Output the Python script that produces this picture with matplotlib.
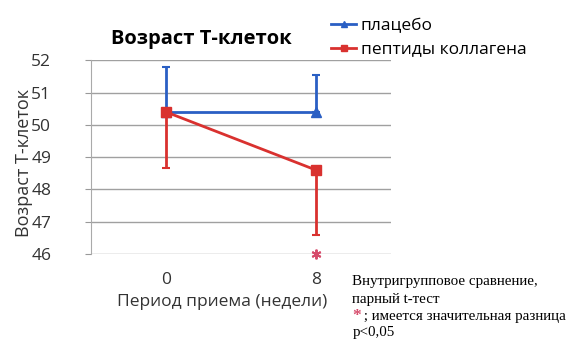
import matplotlib
matplotlib.use("Agg")
import matplotlib.pyplot as plt
from matplotlib.lines import Line2D

weeks = ["0", "8"]
placebo = [50.4, 50.4]
placebo_err_up = [1.4, 1.15]
collagen = [50.4, 48.6]
collagen_err_down = [1.75, 2.0]
y_ticks = [46, 47, 48, 49, 50, 51, 52]
star_value = 46.0

blue = "#2a5fc4"
red = "#d9312f"
star_color = "#d64a6a"

plt.rcParams["font.family"] = ["Open Sans", "DejaVu Sans"]

fig = plt.figure(figsize=(5.71, 3.42), dpi=100)
ax = fig.add_axes([0.159, 0.257, 0.526, 0.567])

x = list(range(len(weeks)))

ax.errorbar(x, placebo, yerr=[[0, 0], placebo_err_up], color=blue, lw=2,
            marker="^", ms=7, capsize=3, capthick=1.5, elinewidth=2, zorder=3)
ax.errorbar(x, collagen, yerr=[collagen_err_down, [0, 0]], color=red, lw=2,
            marker="s", ms=7, capsize=3, capthick=1.5, elinewidth=2, zorder=4)
ax.plot([x[1]], [star_value], marker=(6, 2, 0), ms=7, mew=1.4,
        color=star_color, clip_on=False, zorder=5)

ax.set_xlim(-0.5, 1.5)
ax.set_ylim(46, 52)
ax.set_xticks(x)
ax.set_xticklabels(weeks, fontsize=12.5, color="#333333")
ax.set_yticks(y_ticks)
ax.set_yticklabels([str(v) for v in y_ticks], fontsize=12.5, color="#333333")
ax.tick_params(axis="x", length=0, pad=13)
ax.tick_params(axis="y", length=4, color="#999999", pad=24.5)
ax.grid(axis="y", color="#a0a0a0", lw=1)
ax.set_axisbelow(True)
for side in ["top", "right", "bottom"]:
    ax.spines[side].set_visible(False)
ax.spines["left"].set_color("#aaaaaa")

ax.set_xlabel("Период приема (недели)", fontsize=12.5, color="#333333",
              va="center")
ax.xaxis.set_label_coords(0.438, -0.248)
ax.set_ylabel("Возраст Т-клеток", fontsize=13, color="#333333", va="center")
ax.yaxis.set_label_coords(-0.222, 0.469)

fig.text(0.353, 0.887, "Возраст Т-клеток", fontsize=14.5, fontweight="bold",
         ha="center", va="center")

handles = [
    Line2D([0], [0], color=blue, lw=2, marker="^", ms=5),
    Line2D([0], [0], color=red, lw=2, marker="s", ms=5),
]
fig.legend(handles, ["плацебо", "пептиды коллагена"], loc="upper left",
           bbox_to_anchor=(0.553, 0.992), frameon=False, fontsize=12.5,
           handlelength=1.4, handletextpad=0.3, labelspacing=0.4)

note_font = ["Liberation Serif", "DejaVu Serif"]
note_x = 0.617
note_size = 10.8
fig.text(note_x, 0.167, "Внутригрупповое сравнение,", fontsize=note_size,
         family=note_font, va="baseline")
fig.text(note_x, 0.114, "парный t-тест", fontsize=note_size,
         family=note_font, va="baseline")
fig.text(note_x, 0.064, "*", fontsize=12.5, color=star_color,
         family=note_font, va="baseline", fontweight="bold")
fig.text(note_x + 0.013, 0.064, " ; имеется значительная разница",
         fontsize=note_size, family=note_font, va="baseline")
fig.text(note_x, 0.017, "p<0,05", fontsize=note_size, family=note_font,
         va="baseline")

fig.savefig("out.png", dpi=100)
